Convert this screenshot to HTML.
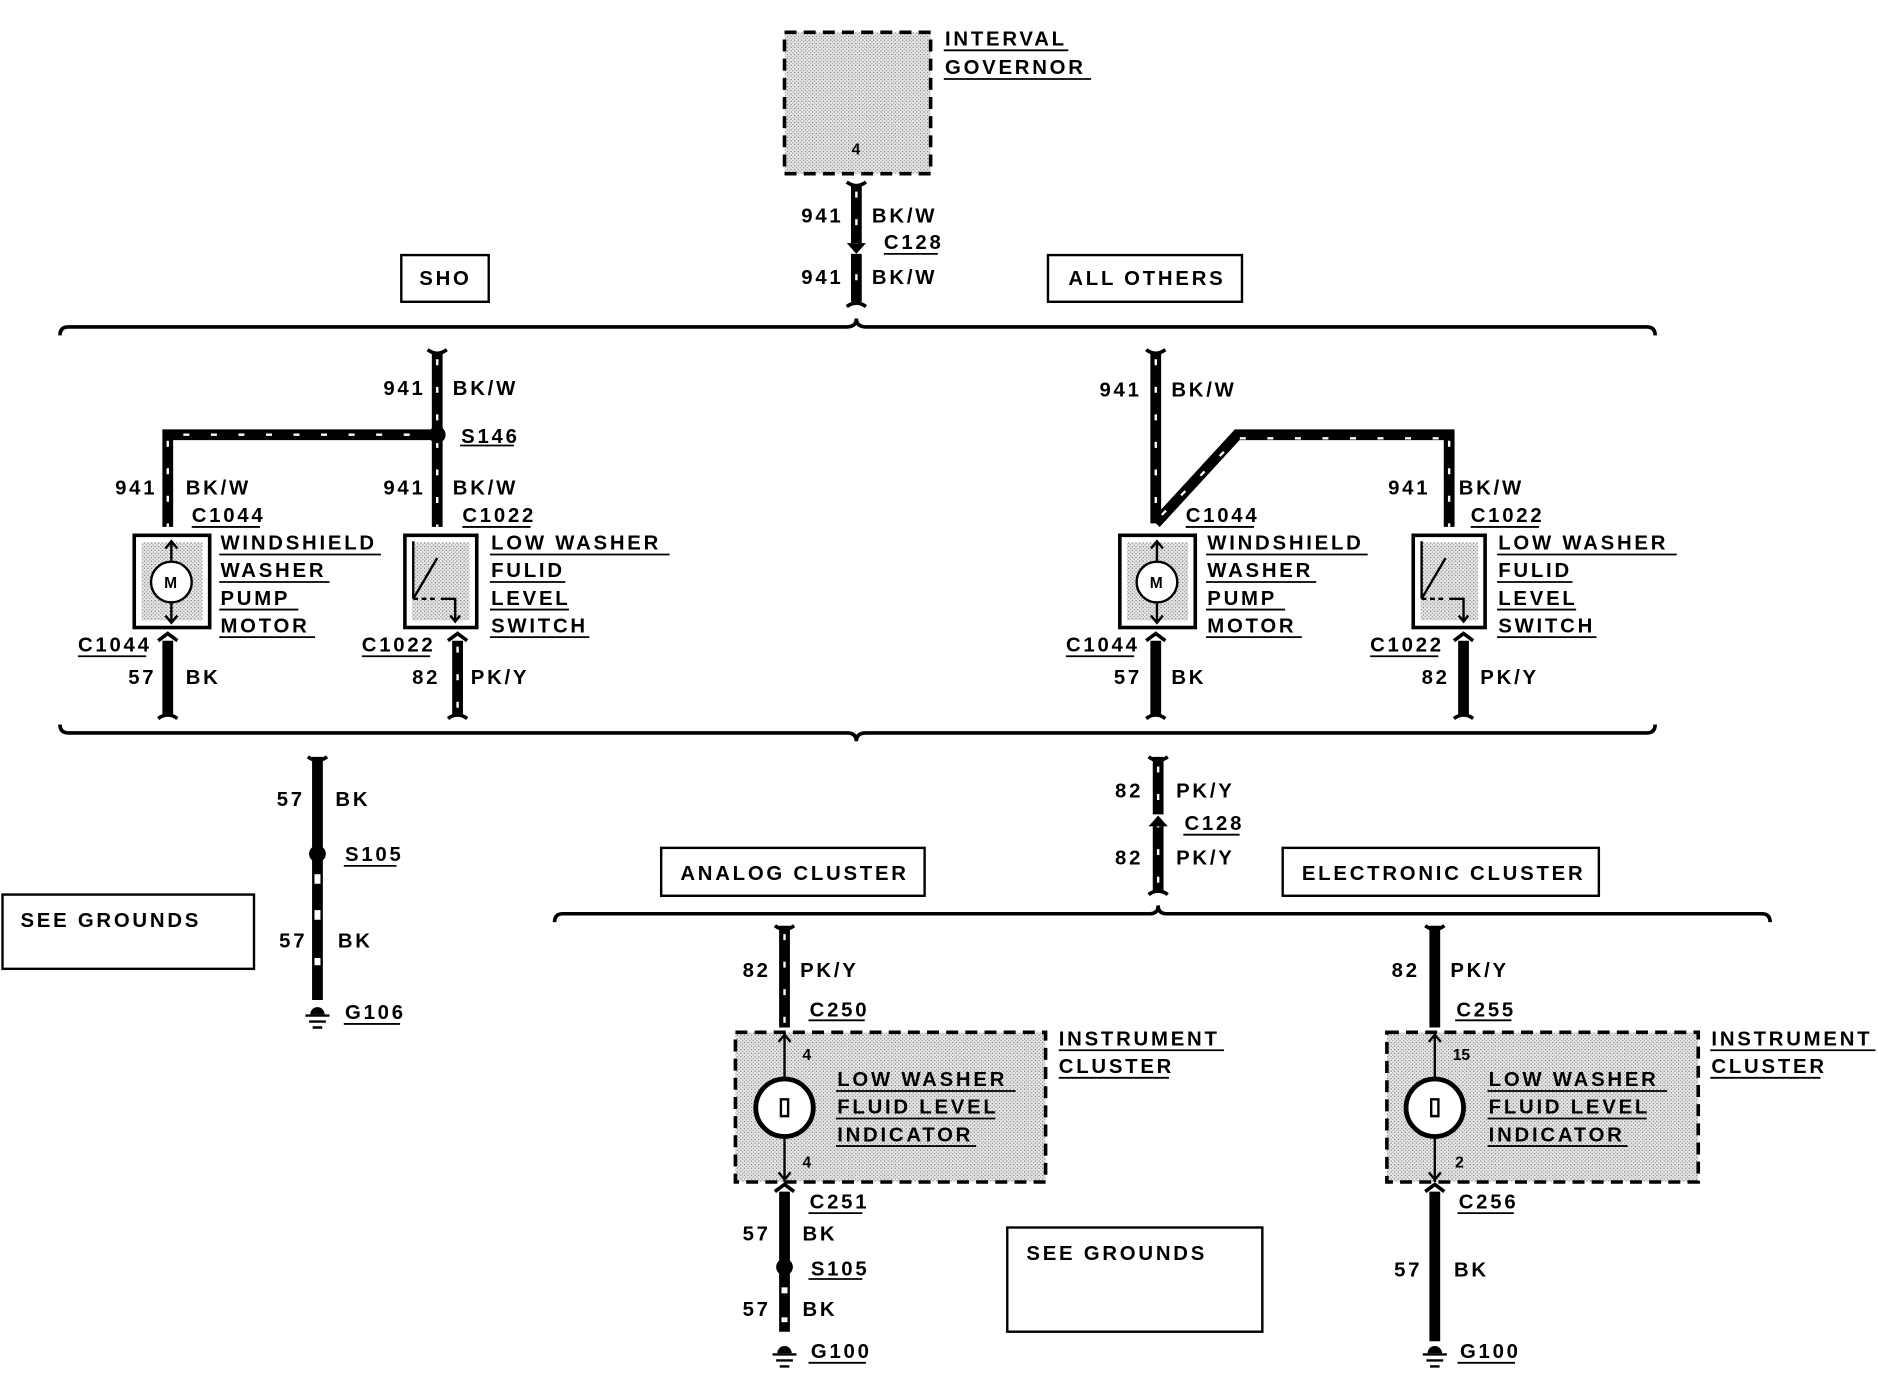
<!DOCTYPE html>
<html><head><meta charset="utf-8"><style>
html,body{margin:0;padding:0;background:#fff;}
svg{display:block}
text{font-family:"Liberation Sans",sans-serif;font-weight:bold;font-size:17px;letter-spacing:2.3px;fill:#000}
.s{font-size:13px;letter-spacing:0}
</style></head><body>
<svg width="1878" height="1376" viewBox="0 0 1568 1149" xmlns="http://www.w3.org/2000/svg">
<defs>
<pattern id="st" width="3" height="3" patternUnits="userSpaceOnUse"><rect width="3" height="3" fill="#e8e8e8"/><rect width="1" height="1" fill="#777"/><rect x="1.5" y="1.5" width="1" height="1" fill="#999"/></pattern>
</defs>
<g fill="none" stroke="#000">
<rect x="655" y="27" width="122" height="118" fill="url(#st)" stroke-width="3" stroke-dasharray="10 6"/>
<path d="M50 280 Q50 273 57 273 L707 273 Q715 273 715 266 Q715 273 723 273 L1375 273 Q1382 273 1382 280" stroke-width="3"/>
<path d="M50 605 Q50 612 57 612 L707 612 Q715 612 715 619 Q715 612 723 612 L1375 612 Q1382 612 1382 605" stroke-width="3"/>
<path d="M463 770 Q463 763 470 763 L960 763 Q967 763 967 756 Q967 763 974 763 L1471 763 Q1478 763 1478 770" stroke-width="3"/>
<rect x="335" y="213" width="73" height="39" stroke-width="2"/>
<rect x="875" y="213" width="162" height="39" stroke-width="2"/>
<rect x="2" y="747" width="210" height="62" stroke-width="2"/>
<rect x="552" y="708" width="220" height="40" stroke-width="2"/>
<rect x="1071" y="708" width="264" height="40" stroke-width="2"/>
<rect x="841" y="1025" width="213" height="87" stroke-width="2"/>
<g stroke-width="9">
<path d="M715 155 V203 M715 212 V252"/>
<path d="M365 295 V440 M365 363 H140 V440"/>
<path d="M140 535 V598 M382 535 V598"/>
<path d="M965 295 V437 M965 437 L1033 363 H1210 V440"/>
<path d="M965 535 V598 M1222 535 V598"/>
<path d="M265 632 V835"/>
<path d="M967 632 V680 M967 690 V745"/>
<path d="M655 773 V858 M1198 773 V858"/>
<path d="M655 995 V1112 M1198 995 V1120"/>
</g>
<g stroke="#fff" stroke-width="2" stroke-dasharray="5 18">
<path d="M715 160 V250 M365 300 V440 M140 368 V440 M365 363 H145 M965 300 V430 M970 430 L1033 366 H1205 M1210 368 V440 M382 540 V598 M967 640 V745 M655 780 V855"/>
</g>
<g stroke="#fff" stroke-width="5"><path d="M265 730 V738 M265 760 V768 M265 800 V806 M655 1075 V1080 M655 1100 V1104"/></g>
<g stroke-width="3">
<path d="M707 152 q8 6 16 0 M707 256 q8 -6 16 0 M357 292 q8 6 16 0 M957 292 q8 6 16 0 M132 600 q8 -6 16 0 M374 600 q8 -6 16 0 M957 600 q8 -6 16 0 M1214 600 q8 -6 16 0 M257 632 q8 6 16 0 M959 632 q8 6 16 0 M959 747 q8 -6 16 0 M647 773 q8 6 16 0 M1190 773 q8 6 16 0 M132 535 l8 -6 l8 6 M374 535 l8 -6 l8 6 M957 535 l8 -6 l8 6 M1214 535 l8 -6 l8 6 M647 995 l8 -6 l8 6 M1190 995 l8 -6 l8 6"/>
</g>
<g fill="#000" stroke="none">
<path d="M707 203 l8 9 l8 -9 z M959 690 l8 -9 l8 9 z"/>
<circle cx="365" cy="363" r="7"/><circle cx="265" cy="713" r="7"/><circle cx="655" cy="1058" r="7"/>
</g>
<g stroke-width="2"><path d="M255 848 h20 M258 853 h14 M261 858 h8 M645 1131 h20 M648 1136 h14 M651 1141 h8 M1188 1131 h20 M1191 1136 h14 M1194 1141 h8"/></g>
<g fill="#000" stroke="none"><path d="M259 847 a6 6 0 0 1 12 0z M649 1130 a6 6 0 0 1 12 0z M1192 1130 a6 6 0 0 1 12 0z"/></g>
<rect x="112" y="447" width="63" height="77" stroke-width="3"/><rect x="118" y="453" width="51" height="65" fill="url(#st)" stroke="none"/>
<circle cx="143" cy="486" r="17" fill="#fff" stroke-width="2"/><path d="M143 452 V469 M143 503 V520 M138 458 l5 -6 5 6 M138 514 l5 6 5 -6" stroke-width="2"/>
<rect x="935" y="447" width="63" height="77" stroke-width="3"/><rect x="941" y="453" width="51" height="65" fill="url(#st)" stroke="none"/>
<circle cx="966" cy="486" r="17" fill="#fff" stroke-width="2"/><path d="M966 452 V469 M966 503 V520 M961 458 l5 -6 5 6 M961 514 l5 6 5 -6" stroke-width="2"/>
<rect x="338" y="447" width="60" height="77" stroke-width="3"/><rect x="344" y="453" width="48" height="65" fill="url(#st)" stroke="none"/>
<path d="M345 452 V500 M345 500 L365 466 M368 500 h12 V518 M376 514 l4 5 4 -5" stroke-width="2"/><path d="M345 500 h20" stroke-width="2" stroke-dasharray="4 3"/>
<rect x="1180" y="447" width="60" height="77" stroke-width="3"/><rect x="1186" y="453" width="48" height="65" fill="url(#st)" stroke="none"/>
<path d="M1187 452 V500 M1187 500 L1207 466 M1210 500 h12 V518 M1218 514 l4 5 4 -5" stroke-width="2"/><path d="M1187 500 h20" stroke-width="2" stroke-dasharray="4 3"/>
<rect x="614" y="862" width="259" height="125" fill="url(#st)" stroke-width="3" stroke-dasharray="10 6"/>
<path d="M655 862 V987 M650 870 l5 -6 5 6 M650 979 l5 6 5 -6" stroke-width="2"/>
<circle cx="655" cy="925" r="24" fill="#fff" stroke-width="4"/><path d="M652 918 h6 v14 h-6 z" stroke-width="2"/>
<rect x="1158" y="862" width="260" height="125" fill="url(#st)" stroke-width="3" stroke-dasharray="10 6"/>
<path d="M1198 862 V987 M1193 870 l5 -6 5 6 M1193 979 l5 6 5 -6" stroke-width="2"/>
<circle cx="1198" cy="925" r="24" fill="#fff" stroke-width="4"/><path d="M1195 918 h6 v14 h-6 z" stroke-width="2"/>
<g stroke-width="1.5">
<path d="M788 42 h104 M788 66 h123 M738 212 h45 M384 372 h45 M160 440 h57 M386 440 h57 M65 548 h57 M302 548 h57 M183 463 h135 M183 486 h92 M183 509 h66 M183 532 h80 M409 463 h150 M409 486 h63 M409 509 h66 M409 532 h83"/>
<path d="M990 440 h57 M1228 440 h57 M890 548 h57 M1144 548 h57 M1007 463 h135 M1007 486 h92 M1007 509 h66 M1007 532 h80 M1250 463 h150 M1250 486 h63 M1250 509 h66 M1250 532 h83"/>
<path d="M988 697 h47 M287 723 h44 M287 855 h47 M675 852 h47 M1215 852 h47 M884 877 h138 M884 900 h92 M1428 877 h138 M1428 900 h92"/>
<path d="M698 911 h150 M698 934 h133 M698 957 h117 M1242 911 h150 M1242 934 h133 M1242 957 h117 M675 1013 h45 M675 1068 h45 M675 1138 h48 M1217 1013 h47 M1217 1138 h48"/>
</g>
</g>
<text x="789" y="38">INTERVAL</text><text x="789" y="62">GOVERNOR</text>
<text x="711" y="129" class="s">4</text>
<text x="669" y="186">941</text><text x="728" y="186">BK/W</text><text x="738" y="208">C128</text>
<text x="669" y="237">941</text><text x="728" y="237">BK/W</text>
<text x="350" y="238">SHO</text><text x="892" y="238">ALL OTHERS</text>
<text x="320" y="330">941</text><text x="378" y="330">BK/W</text><text x="385" y="370">S146</text>
<text x="96" y="413">941</text><text x="155" y="413">BK/W</text><text x="320" y="413">941</text><text x="378" y="413">BK/W</text>
<text x="160" y="436">C1044</text><text x="386" y="436">C1022</text>
<text x="184" y="459">WINDSHIELD</text><text x="184" y="482">WASHER</text><text x="184" y="505">PUMP</text><text x="184" y="528">MOTOR</text>
<text x="410" y="459">LOW WASHER</text><text x="410" y="482">FULID</text><text x="410" y="505">LEVEL</text><text x="410" y="528">SWITCH</text>
<text x="137" y="491" class="s">M</text><text x="960" y="491" class="s">M</text>
<text x="65" y="544">C1044</text><text x="302" y="544">C1022</text>
<text x="107" y="571">57</text><text x="155" y="571">BK</text><text x="344" y="571">82</text><text x="393" y="571">PK/Y</text>
<text x="918" y="331">941</text><text x="978" y="331">BK/W</text>
<text x="1159" y="413">941</text><text x="1218" y="413">BK/W</text>
<text x="990" y="436">C1044</text><text x="1228" y="436">C1022</text>
<text x="1008" y="459">WINDSHIELD</text><text x="1008" y="482">WASHER</text><text x="1008" y="505">PUMP</text><text x="1008" y="528">MOTOR</text>
<text x="1251" y="459">LOW WASHER</text><text x="1251" y="482">FULID</text><text x="1251" y="505">LEVEL</text><text x="1251" y="528">SWITCH</text>
<text x="890" y="544">C1044</text><text x="1144" y="544">C1022</text>
<text x="930" y="571">57</text><text x="978" y="571">BK</text><text x="1187" y="571">82</text><text x="1236" y="571">PK/Y</text>
<text x="231" y="673">57</text><text x="280" y="673">BK</text><text x="288" y="719">S105</text>
<text x="17" y="774">SEE GROUNDS</text>
<text x="233" y="791">57</text><text x="282" y="791">BK</text><text x="288" y="851">G106</text>
<text x="931" y="666">82</text><text x="982" y="666">PK/Y</text><text x="989" y="693">C128</text>
<text x="931" y="722">82</text><text x="982" y="722">PK/Y</text>
<text x="568" y="735">ANALOG CLUSTER</text><text x="1087" y="735">ELECTRONIC CLUSTER</text>
<text x="620" y="816">82</text><text x="668" y="816">PK/Y</text><text x="676" y="849">C250</text>
<text x="1162" y="816">82</text><text x="1211" y="816">PK/Y</text><text x="1216" y="849">C255</text>
<text x="884" y="873">INSTRUMENT</text><text x="884" y="896">CLUSTER</text>
<text x="1429" y="873">INSTRUMENT</text><text x="1429" y="896">CLUSTER</text>
<text x="670" y="885" class="s">4</text><text x="670" y="975" class="s">4</text>
<text x="1213" y="885" class="s">15</text><text x="1215" y="975" class="s">2</text>
<text x="699" y="907">LOW WASHER</text><text x="699" y="930">FLUID LEVEL</text><text x="699" y="953">INDICATOR</text>
<text x="1243" y="907">LOW WASHER</text><text x="1243" y="930">FLUID LEVEL</text><text x="1243" y="953">INDICATOR</text>
<text x="676" y="1009">C251</text><text x="1218" y="1009">C256</text>
<text x="620" y="1036">57</text><text x="670" y="1036">BK</text><text x="677" y="1065">S105</text>
<text x="620" y="1099">57</text><text x="670" y="1099">BK</text><text x="677" y="1134">G100</text>
<text x="857" y="1052">SEE GROUNDS</text>
<text x="1164" y="1066">57</text><text x="1214" y="1066">BK</text><text x="1219" y="1134">G100</text>
</svg>
</body></html>
